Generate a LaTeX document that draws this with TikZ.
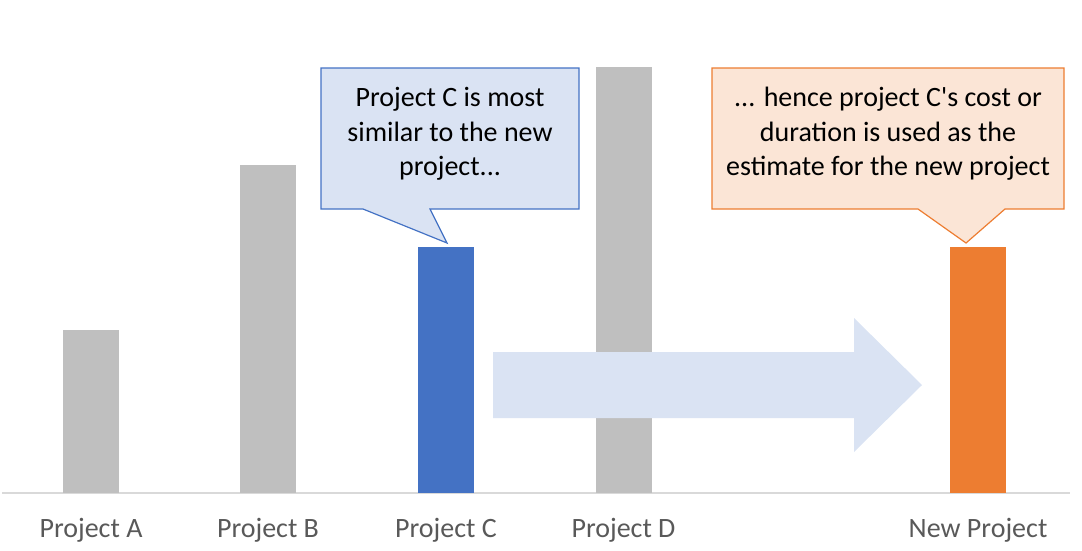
\documentclass[tikz,border=0pt]{standalone}
\usepackage{fontspec}
\setmainfont{Carlito}
\definecolor{barGray}{HTML}{BFBFBF}
\definecolor{barBlue}{HTML}{4472C4}
\definecolor{barOrange}{HTML}{ED7D31}
\definecolor{fillBlue}{HTML}{DAE3F3}
\definecolor{fillOrange}{HTML}{FBE5D6}
\definecolor{axisGray}{HTML}{D9D9D9}
\definecolor{labelGray}{HTML}{595959}
\tikzset{
  bar/.style={draw=none, minimum width=56pt, inner sep=0pt, anchor=south},
  lbl/.style={text=labelGray, font=\fontsize{28}{32}\selectfont, inner sep=0pt},
  ctext/.style={font=\fontsize{28}{34.5}\selectfont, align=center, text=black},
}
\begin{document}
\begin{tikzpicture}[x=1pt,y=-1pt]
\useasboundingbox (0,0) rectangle (1082,550);
% axis
\coordinate (axL) at (2,493);
\coordinate (axR) at (1070,493);
\draw[axisGray, line width=2pt] (axL) -- (axR);
% bars
\node[bar, fill=barGray, minimum height=163pt] (A) at (91,493) {};
\node[bar, fill=barGray, minimum height=328pt] (B) at (268,493) {};
\node[bar, fill=barBlue, minimum height=246pt] (C) at (446,493) {};
\node[bar, fill=barGray, minimum height=426pt] (D) at (623.5,493) {};
\node[bar, fill=barOrange, minimum height=246pt] (N) at (978,493) {};
% big arrow
\fill[fillBlue] (493,352) -- (854,352) -- (854,318) -- (922,385) -- (854,452) -- (854,418) -- (493,418) -- cycle;
% labels
\node[lbl] (lA) at (91,530) {Project A};
\node[lbl] (lB) at (268,530) {Project B};
\node[lbl] (lC) at (446,530) {Project C};
\node[lbl] (lD) at (623.5,530) {Project D};
\node[lbl] (lN) at (978,530) {New Project};
% callout 1
\draw[barBlue, fill=fillBlue, line width=1.2pt, line join=miter]
  (321,68) -- (579,68) -- (579,209) -- (430,209) -- (447,243) -- (363,209) -- (321,209) -- cycle;
\node[ctext] (t1) at (450,134) {Project C is most\\similar to the new\\project{.}{.}{.}};
% callout 2
\draw[barOrange, fill=fillOrange, line width=1.2pt, line join=miter]
  (712,68) -- (1064,68) -- (1064,209) -- (1005,209) -- (966,243) -- (918,209) -- (712,209) -- cycle;
\node[ctext] (t2) at (888,134) {{.}{.}{.} hence project C\textquotesingle s cost or\\duration is used as the\\estimate for the new project};
\end{tikzpicture}
\end{document}
